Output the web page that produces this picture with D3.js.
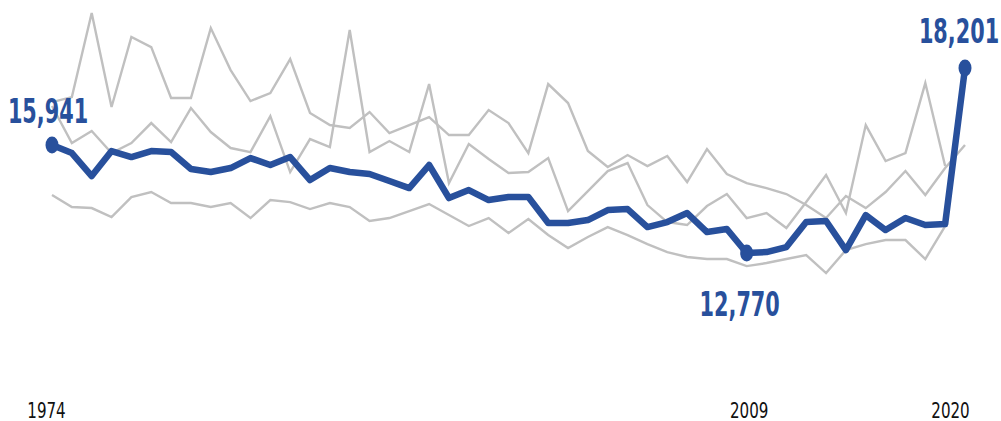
<!DOCTYPE html>
<html>
<head>
<meta charset="utf-8">
<script src="https://cdn.jsdelivr.net/npm/d3@7"></script>
<style>
  body { margin: 0; background: #fff; }
  text { font-family: 'DejaVu Sans Condensed', 'Liberation Sans Narrow', sans-serif; }
</style>
</head>
<body>
<svg id="grafico"></svg>
<script>
const anos = d3.range(1974, 2021);

const serieDestaque = [15941, 15706, 15031, 15765, 15589, 15765, 15735, 15236, 15148, 15266,
    15559, 15354, 15589, 14913, 15266, 15148, 15090, 14884, 14678, 15354,
    14385, 14620, 14326, 14414, 14414, 13651, 13651, 13739, 14033, 14062,
    13533, 13680, 13945, 13387, 13475, 12770, 12800, 12946, 13680, 13710,
    12858, 13886, 13445, 13798, 13592, 13622, 18201];

const serieCinzaA = [17203, 17350, 19817, 17057, 19112, 18818, 17321, 17321, 19376, 18143,
    17233, 17468, 18466, 16881, 16528, 16440, 16910, 16293, 16528, 16763,
    16235, 16235, 16969, 16587, 15706, 17732, 17174, 15765, 15295, 15647,
    15324, 15618, 14855, 15824, 15090, 14825, 14679, 14502, 14179, 13798,
    14444, 14091, 14561, 15178, 14473, 15266, 15941];

const serieCinzaB = [17086, 16000, 16352, 15706, 16000, 16587, 16029, 17027, 16323, 15853,
    15735, 16792, 15148, 16117, 15882, 19317, 15735, 16058, 15735, 17732,
    14825, 15970, 15530, 15119, 15148, 15559, 14003, 14590, 15178, 15413,
    14179, 13680, 13592, 14150, 14502, 13798, 13945, 13504, 14267, 15060,
    13945, 16528, 15471, 15706, 17761, 15324, null];

const serieCinzaC = [14473, 14121, 14091, 13827, 14414, 14561, 14238, 14238, 14121, 14238,
    13798, 14326, 14267, 14062, 14238, 14121, 13710, 13798, 14003, 14209,
    13886, 13563, 13798, 13357, 13768, 13299, 12917, 13240, 13533, 13299,
    13034, 12799, 12653, 12594, 12594, 12388, 12477, 12594, 12711, 12183,
    12858, 13034, 13152, 13152, 12594, 13563, null];

const rotulosEixo = [1974, 2009, 2020];
const anosMarcados = [1974, 2009, 2020];

const largura = 1001, altura = 421;
const azul = '#28509c', cinza = '#c0c0c0';

let svg = d3.select('#grafico')
    .attr('width', largura)
    .attr('height', altura);

let fnX = d3.scaleLinear()
    .domain([1974, 2020])
    .range([52, 965]);

let fnY = d3.scaleLinear()
    .domain([10000, 20000])
    .range([347.4, 6.8]);

let linha = d3.line()
    .defined(d => d.valor != null)
    .x(d => fnX(d.ano))
    .y(d => fnY(d.valor));

const junta = serie => anos.map((a, i) => ({ ano: a, valor: serie[i] }));

[serieCinzaA, serieCinzaB, serieCinzaC].forEach(serie => {
    svg.append('path')
        .datum(junta(serie))
        .attr('fill', 'none')
        .attr('stroke', cinza)
        .attr('stroke-width', 2.4)
        .attr('d', linha);
});

svg.append('path')
    .datum(junta(serieDestaque))
    .attr('fill', 'none')
    .attr('stroke', azul)
    .attr('stroke-width', 6.5)
    .attr('stroke-linejoin', 'round')
    .attr('d', linha);

let marcados = junta(serieDestaque).filter(d => anosMarcados.includes(d.ano));

svg.selectAll('.ponto')
    .data(marcados)
    .enter()
    .append('ellipse')
    .classed('ponto', true)
    .attr('cx', d => fnX(d.ano))
    .attr('cy', d => fnY(d.valor))
    .attr('rx', 6.5)
    .attr('ry', 8.5)
    .attr('fill', azul);

// rotulos de valor: minimo fica abaixo, os outros acima
// fonte condensada na mao com scale horizontal
const deslocX = { 1974: -4, 2009: -7, 2020: -6 };
const deslocY = { 1974: -22, 2009: 63, 2020: -25 };

svg.selectAll('.rotulo')
    .data(marcados)
    .enter()
    .append('text')
    .classed('rotulo', true)
    .attr('transform', d =>
        'translate(' + (fnX(d.ano) + deslocX[d.ano]) + ',' + (fnY(d.valor) + deslocY[d.ano]) + ') scale(0.68,1)')
    .attr('text-anchor', 'middle')
    .attr('font-size', 34)
    .attr('font-weight', 'bold')
    .attr('fill', azul)
    .text(d => d3.format(',')(d.valor));

let eixoX = d3.axisBottom(fnX)
    .tickValues(rotulosEixo)
    .tickFormat(d3.format('d'))
    .tickSize(0);

let gEixo = svg.append('g')
    .attr('transform', 'translate(0,400)')
    .call(eixoX);

gEixo.select('.domain').remove();
gEixo.selectAll('text')
    .attr('font-family', "'DejaVu Sans Condensed', sans-serif")
    .attr('font-size', 21)
    .attr('fill', '#111')
    .attr('y', 0)
    .attr('dy', '0.85em')
    .attr('transform', d => 'translate(' + (d === 1974 ? -6 : (d === 2020 ? -15 : 2)) + ',0) scale(0.8,1)');
</script>
</body>
</html>
